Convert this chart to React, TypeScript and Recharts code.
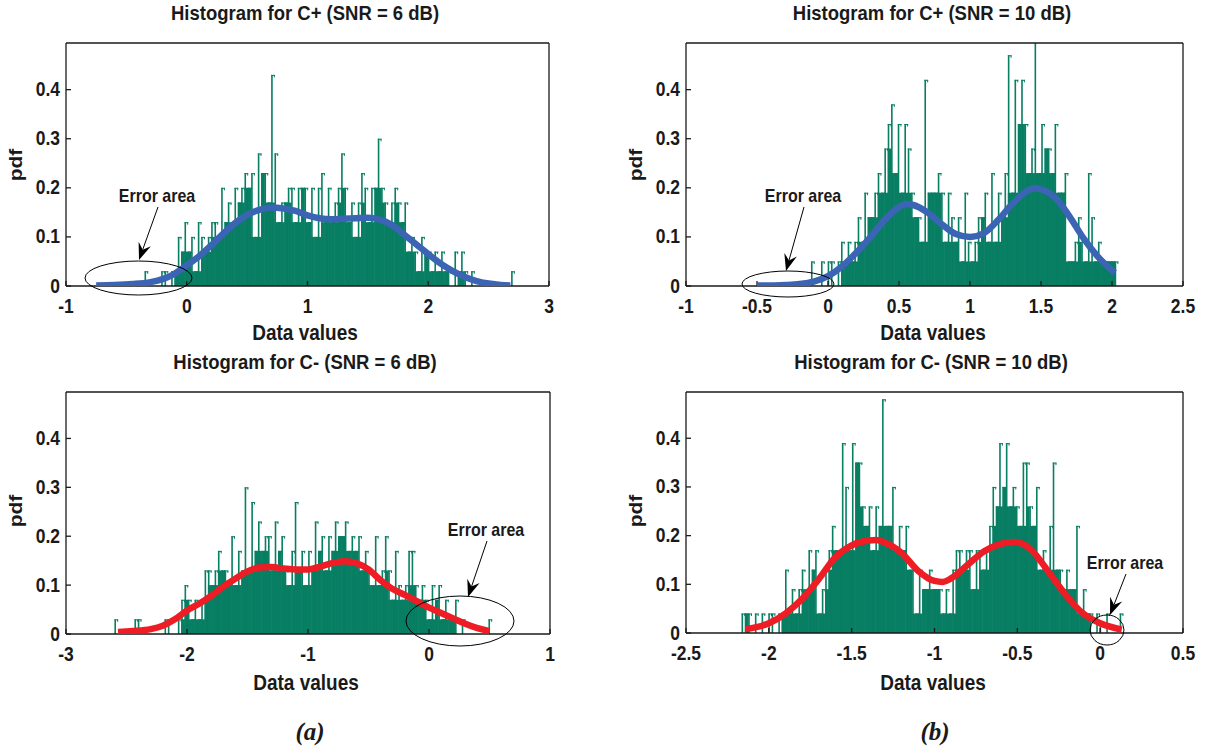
import React from "react";
import { BarChart, Bar, LineChart, Line, XAxis, YAxis } from "recharts";

const FONT = "'Liberation Sans', Arial, Helvetica, sans-serif";
const BAR_GREEN = "#087e63";
const BLUE = "#3c64b5";
const RED = "#ee1c24";
const INK = "#1a1a1a";

const yTicks = [0, 0.1, 0.2, 0.3, 0.4];
const yMax = 0.495;

// (a) C+ , SNR = 6 dB
const aPlusTicks = [-1, 0, 1, 2, 3];
const aPlusBinStart = -0.35;
const aPlusBinWidth = 0.0276;
const aPlusHeights = [
  0.03, 0, 0, 0, 0, 0.03, 0.03, 0, 0.03, 0.03,
  0.1, 0.07, 0.13, 0.07, 0.1, 0.03, 0.13, 0.1, 0.07, 0.1,
  0.13, 0.13, 0.1, 0.2, 0.13, 0.17, 0.13, 0.2, 0.17, 0.2,
  0.23, 0.2, 0.23, 0.1, 0.27, 0.23, 0.23, 0.17, 0.43, 0.27,
  0.13, 0.17, 0.17, 0.2, 0.2, 0.13, 0.2, 0.2, 0.2, 0.13,
  0.2, 0.1, 0.2, 0.23, 0.13, 0.2, 0.13, 0.17, 0.2, 0.27,
  0.2, 0.13, 0.17, 0.1, 0.17, 0.23, 0.2, 0.13, 0.2, 0.2,
  0.3, 0.2, 0.17, 0.13, 0.17, 0.2, 0.17, 0.13, 0.17, 0.07,
  0.1, 0.07, 0.03, 0.1, 0.07, 0.07, 0.03, 0.07, 0.03, 0.07,
  0.03, 0.03, 0, 0.07, 0.03, 0.07, 0.03, 0, 0.03, 0,
  0, 0, 0, 0, 0, 0, 0, 0, 0, 0,
  0.03,
];
const aPlusCurveX = [-0.75, -0.6, -0.45, -0.3, -0.2, -0.1, 0, 0.1, 0.2, 0.3, 0.4, 0.5, 0.6, 0.7, 0.8, 0.9, 1.0, 1.1, 1.2, 1.3, 1.4, 1.5, 1.6, 1.7, 1.8, 1.9, 2.0, 2.1, 2.2, 2.3, 2.4, 2.5, 2.6, 2.68];
const aPlusCurveY = [0.001, 0.002, 0.004, 0.008, 0.014, 0.025, 0.042, 0.06, 0.082, 0.106, 0.128, 0.145, 0.155, 0.16, 0.158, 0.153, 0.144, 0.138, 0.136, 0.137, 0.138, 0.139, 0.135, 0.124, 0.105, 0.085, 0.065, 0.046, 0.031, 0.019, 0.01, 0.005, 0.002, 0.001];

// (a) C- , SNR = 6 dB
const aMinusTicks = [-3, -2, -1, 0, 1];
const aMinusBinStart = -2.6;
const aMinusBinWidth = 0.0276;
const aMinusHeights = [
  0.03, 0, 0, 0, 0, 0, 0.03, 0.03, 0, 0,
  0, 0, 0, 0, 0, 0.03, 0.03, 0, 0, 0.03,
  0.07, 0.1, 0.07, 0.03, 0.07, 0.03, 0.07, 0.13, 0.13, 0.1,
  0.13, 0.17, 0.13, 0.13, 0.1, 0.2, 0.1, 0.17, 0.13, 0.3,
  0.13, 0.27, 0.17, 0.23, 0.17, 0.2, 0.2, 0.13, 0.23, 0.17,
  0.2, 0.13, 0.1, 0.17, 0.27, 0.13, 0.17, 0.1, 0.17, 0.13,
  0.23, 0.17, 0.2, 0.13, 0.2, 0.17, 0.23, 0.2, 0.2, 0.23,
  0.17, 0.2, 0.17, 0.2, 0.13, 0.17, 0.13, 0.1, 0.2, 0.1,
  0.13, 0.2, 0.13, 0.07, 0.17, 0.1, 0.07, 0.1, 0.17, 0.17,
  0.1, 0.07, 0.1, 0.07, 0.03, 0.1, 0.07, 0.1, 0.03, 0.07,
  0.03, 0.03, 0.07, 0, 0.03, 0, 0, 0, 0, 0,
  0, 0, 0.03,
];
const aMinusCurveX = [-2.57, -2.45, -2.3, -2.2, -2.1, -2.0, -1.9, -1.8, -1.7, -1.6, -1.5, -1.4, -1.3, -1.2, -1.1, -1.0, -0.9, -0.8, -0.7, -0.6, -0.5, -0.4, -0.3, -0.2, -0.1, 0, 0.1, 0.2, 0.3, 0.4, 0.5];
const aMinusCurveY = [0.004, 0.006, 0.01, 0.017, 0.03, 0.048, 0.062, 0.078, 0.097, 0.113, 0.128, 0.136, 0.137, 0.134, 0.132, 0.132, 0.138, 0.145, 0.149, 0.145, 0.132, 0.11, 0.092, 0.08, 0.067, 0.054, 0.043, 0.032, 0.021, 0.012, 0.006];

// (b) C+ , SNR = 10 dB
const bPlusTicks = [-1, -0.5, 0, 0.5, 1, 1.5, 2, 2.5];
const bPlusBinStart = -0.12;
const bPlusBinWidth = 0.0235;
const bPlusHeights = [
  0.05, 0, 0, 0.05, 0, 0.05, 0.05, 0, 0.05, 0.09,
  0.05, 0.09, 0.05, 0.09, 0.14, 0.09, 0.19, 0.14, 0.14, 0.19,
  0.23, 0.19, 0.28, 0.33, 0.37, 0.23, 0.33, 0.19, 0.33, 0.28,
  0.19, 0.14, 0.14, 0.09, 0.42, 0.19, 0.19, 0.19, 0.23, 0.19,
  0.09, 0.19, 0.14, 0.09, 0.14, 0.05, 0.19, 0.09, 0.05, 0.09,
  0.14, 0.14, 0.19, 0.09, 0.23, 0.09, 0.19, 0.14, 0.23, 0.47,
  0.19, 0.42, 0.33, 0.42, 0.33, 0.23, 0.28, 0.5, 0.23, 0.33,
  0.28, 0.28, 0.23, 0.33, 0.19, 0.19, 0.23, 0.05, 0.05, 0.09,
  0.14, 0.09, 0.05, 0.23, 0.14, 0.05, 0.09, 0.05, 0.05, 0.05,
  0.05, 0.05,
];
const bPlusCurveX = [-0.5, -0.4, -0.3, -0.2, -0.1, 0, 0.1, 0.2, 0.3, 0.4, 0.5, 0.55, 0.6, 0.7, 0.8, 0.9, 1.0, 1.1, 1.2, 1.3, 1.4, 1.45, 1.5, 1.6, 1.7, 1.8, 1.9, 2.02];
const bPlusCurveY = [0.001, 0.001, 0.002, 0.004, 0.009, 0.02, 0.04, 0.068, 0.1, 0.135, 0.161, 0.167, 0.165, 0.15, 0.126, 0.106, 0.1, 0.108, 0.135, 0.168, 0.193, 0.199, 0.197, 0.18, 0.142, 0.097, 0.06, 0.027];

// (b) C- , SNR = 10 dB
const bMinusTicks = [-2.5, -2, -1.5, -1, -0.5, 0, 0.5];
const bMinusBinStart = -2.165;
const bMinusBinWidth = 0.0202;
const bMinusHeights = [
  0.04, 0.04, 0.04, 0, 0.04, 0, 0.04, 0, 0.04, 0.04,
  0, 0.04, 0.04, 0.13, 0.04, 0.09, 0.04, 0.09, 0.13, 0.09,
  0.17, 0.13, 0.17, 0.04, 0.09, 0.13, 0.17, 0.22, 0.17, 0.17,
  0.39, 0.3, 0.17, 0.39, 0.35, 0.35, 0.26, 0.22, 0.26, 0.17,
  0.26, 0.22, 0.48, 0.22, 0.22, 0.3, 0.17, 0.22, 0.17, 0.22,
  0.13, 0.13, 0.04, 0.13, 0.09, 0.09, 0.13, 0.09, 0.09, 0.09,
  0.04, 0.09, 0.04, 0.13, 0.17, 0.17, 0.13, 0.17, 0.17, 0.09,
  0.17, 0.17, 0.13, 0.17, 0.22, 0.3, 0.26, 0.39, 0.3, 0.39,
  0.26, 0.3, 0.26, 0.22, 0.35, 0.35, 0.26, 0.22, 0.3, 0.13,
  0.17, 0.13, 0.22, 0.35, 0.13, 0.13, 0.09, 0.13, 0.09, 0.09,
  0.22, 0.04, 0.09, 0.04, 0.04, 0, 0.04, 0.02, 0, 0.04,
  0, 0, 0, 0.04,
];
const bMinusCurveX = [-2.14, -2.0, -1.9, -1.8, -1.7, -1.6, -1.5, -1.4, -1.35, -1.3, -1.2, -1.1, -1.0, -0.95, -0.9, -0.8, -0.7, -0.6, -0.52, -0.45, -0.4, -0.3, -0.2, -0.12, 0, 0.13];
const bMinusCurveY = [0.008, 0.02, 0.04, 0.07, 0.11, 0.155, 0.18, 0.19, 0.191, 0.186, 0.165, 0.128, 0.107, 0.105, 0.112, 0.14, 0.168, 0.183, 0.187, 0.18, 0.165, 0.12, 0.075, 0.045, 0.02, 0.007];

type Rect = { left: number; top: number; right: number; bottom: number };

function buildBins(start: number, width: number, heights: number[]) {
  return heights.map((h, i) => ({
    x: start + (i + 0.5) * width,
    h,
    // part of the bar that sits between both neighbours -> drawn solid
    low: Math.min(h, heights[i - 1] ?? 0, heights[i + 1] ?? 0),
  }));
}

function buildCurve(xs: number[], ys: number[]) {
  return xs.map((x, i) => ({ x, y: ys[i] }));
}

function HistBar(props: any) {
  const { x, y, width, height, payload, fill } = props;
  if (!height || height <= 0 || !payload || !payload.h) return null;
  const pxPerUnit = height / payload.h;
  const solid = payload.low * pxPerUnit;
  const bottom = y + height;
  const w = width + 0.4;
  return (
    <g>
      {solid > 0 && <rect x={x} y={bottom - solid} width={w} height={solid} fill={fill} />}
      <rect x={x} y={y} width={1.6} height={height} fill={fill} />
      <rect x={x} y={y} width={w} height={1} fill={fill} />
      <rect x={x + w - 1} y={y} width={1} height={2.5} fill={fill} />
    </g>
  );
}

const XTick = (p: any) => (
  <text
    transform={`translate(${p.x},${p.y + 27}) scale(1,1.12)`}
    textAnchor="middle"
    fontFamily={FONT}
    fontWeight="bold"
    fontSize={17.5}
    fill={INK}
  >
    {p.payload.value}
  </text>
);

const YTick = (p: any) => (
  <text
    transform={`translate(${p.x},${p.y + 6.5}) scale(1,1.12)`}
    textAnchor="end"
    fontFamily={FONT}
    fontWeight="bold"
    fontSize={17.5}
    fill={INK}
  >
    {p.payload.value}
  </text>
);

type PanelProps = {
  rect: Rect;
  xDomain: [number, number];
  xTicks: number[];
  bins: { x: number; h: number; low: number }[];
  binWidth: number;
  curve: { x: number; y: number }[];
  color: string;
};

function Panel({ rect, xDomain, xTicks, bins, binWidth, curve, color }: PanelProps) {
  const mL = 60, mT = 12, mR = 14, mB = 40;
  const pw = rect.right - rect.left;
  const ph = rect.bottom - rect.top;
  const cw = pw + mL + mR;
  const ch = ph + mT + mB;
  const barPx = (binWidth * pw) / (xDomain[1] - xDomain[0]);
  const axisStroke = { stroke: INK, strokeWidth: 1.3 };

  return (
    <div style={{ position: "absolute", left: rect.left - mL, top: rect.top - mT, width: cw, height: ch }}>
      <div style={{ position: "absolute", left: 0, top: 0 }}>
        <BarChart
          width={cw}
          height={ch}
          data={bins}
          margin={{ top: mT, right: mR, bottom: mB - 1, left: mL - 1 }}
          barCategoryGap={0}
          barGap={0}
        >
          <XAxis
            dataKey="x"
            type="number"
            domain={xDomain}
            ticks={xTicks}
            interval={0}
            allowDataOverflow
            height={1}
            tickSize={-5}
            tickMargin={5}
            axisLine={axisStroke}
            tickLine={axisStroke}
            tick={XTick}
          />
          <YAxis
            type="number"
            domain={[0, yMax]}
            ticks={yTicks}
            interval={0}
            allowDataOverflow
            width={1}
            tickSize={-5}
            tickMargin={11}
            axisLine={axisStroke}
            tickLine={axisStroke}
            tick={YTick}
          />
          <Bar
            dataKey="h"
            fill={BAR_GREEN}
            barSize={barPx - 0.01}
            isAnimationActive={false}
            shape={(p: any) => <HistBar {...p} />}
          />
        </BarChart>
      </div>
      <div style={{ position: "absolute", left: 0, top: 0 }}>
        <LineChart
          width={cw}
          height={ch}
          data={curve}
          margin={{ top: mT - 1, right: mR - 1, bottom: mB, left: mL }}
        >
          <XAxis
            orientation="top"
            dataKey="x"
            type="number"
            domain={xDomain}
            ticks={xTicks}
            interval={0}
            allowDataOverflow
            height={1}
            tickSize={-4}
            tick={false}
            axisLine={axisStroke}
            tickLine={axisStroke}
          />
          <YAxis
            orientation="right"
            type="number"
            domain={[0, yMax]}
            ticks={yTicks}
            interval={0}
            allowDataOverflow
            width={1}
            tickSize={-4}
            tick={false}
            axisLine={axisStroke}
            tickLine={axisStroke}
          />
          <Line
            type="monotone"
            dataKey="y"
            stroke={color}
            strokeWidth={6.5}
            dot={false}
            isAnimationActive={false}
          />
        </LineChart>
      </div>
    </div>
  );
}

function SText({ x, y, size, sy = 1.12, children }: { x: number; y: number; size: number; sy?: number; children: React.ReactNode }) {
  return (
    <text
      transform={`translate(${x},${y}) scale(1,${sy})`}
      textAnchor="middle"
      fontFamily={FONT}
      fontWeight="bold"
      fontSize={size}
      fill={INK}
    >
      {children}
    </text>
  );
}

function YLabel({ x, y }: { x: number; y: number }) {
  return (
    <text
      transform={`translate(${x},${y}) rotate(-90) scale(1.2,1)`}
      textAnchor="middle"
      fontFamily={FONT}
      fontWeight="bold"
      fontSize={17.5}
      fill={INK}
    >
      pdf
    </text>
  );
}

function Arrow({ x1, y1, x2, y2 }: { x1: number; y1: number; x2: number; y2: number }) {
  const dx = x2 - x1, dy = y2 - y1;
  const len = Math.hypot(dx, dy);
  const ux = dx / len, uy = dy / len;
  const px = -uy, py = ux;
  const L = 17, half = 6.5, notch = 11;
  const bx = x2 - ux * L, by = y2 - uy * L;
  const nx = x2 - ux * notch, ny = y2 - uy * notch;
  const pts = [
    [x2, y2],
    [bx + px * half, by + py * half],
    [nx, ny],
    [bx - px * half, by - py * half],
  ].map((p) => p.join(",")).join(" ");
  return (
    <g>
      <line x1={x1} y1={y1} x2={nx} y2={ny} stroke="#000" strokeWidth={1} />
      <polygon points={pts} fill="#000" />
    </g>
  );
}

function ErrorNote({ tx, ty, ax, ay, cx, cy, rx, ry }: { tx: number; ty: number; ax: number; ay: number; cx: number; cy: number; rx: number; ry: number }) {
  return (
    <g>
      <SText x={tx} y={ty} size={16} sy={1.15}>Error area</SText>
      <Arrow x1={tx + 1} y1={ty + 5} x2={ax} y2={ay} />
      <ellipse cx={cx} cy={cy} rx={rx} ry={ry} fill="none" stroke="#000" strokeWidth={1} />
    </g>
  );
}

export default function App() {
  const rectAPlus = { left: 66, top: 43, right: 549, bottom: 286 };
  const rectBPlus = { left: 686, top: 43, right: 1183, bottom: 286 };
  const rectAMinus = { left: 66, top: 392, right: 550, bottom: 634 };
  const rectBMinus = { left: 686, top: 392, right: 1183, bottom: 633 };

  return (
    <div style={{ position: "absolute", left: 0, top: 0, width: 1206, height: 747, background: "#fff", overflow: "hidden" }}>
      <Panel
        rect={rectAPlus}
        xDomain={[-1, 3]}
        xTicks={aPlusTicks}
        bins={buildBins(aPlusBinStart, aPlusBinWidth, aPlusHeights)}
        binWidth={aPlusBinWidth}
        curve={buildCurve(aPlusCurveX, aPlusCurveY)}
        color={BLUE}
      />
      <Panel
        rect={rectBPlus}
        xDomain={[-1, 2.5]}
        xTicks={bPlusTicks}
        bins={buildBins(bPlusBinStart, bPlusBinWidth, bPlusHeights)}
        binWidth={bPlusBinWidth}
        curve={buildCurve(bPlusCurveX, bPlusCurveY)}
        color={BLUE}
      />
      <Panel
        rect={rectAMinus}
        xDomain={[-3, 1]}
        xTicks={aMinusTicks}
        bins={buildBins(aMinusBinStart, aMinusBinWidth, aMinusHeights)}
        binWidth={aMinusBinWidth}
        curve={buildCurve(aMinusCurveX, aMinusCurveY)}
        color={RED}
      />
      <Panel
        rect={rectBMinus}
        xDomain={[-2.5, 0.5]}
        xTicks={bMinusTicks}
        bins={buildBins(bMinusBinStart, bMinusBinWidth, bMinusHeights)}
        binWidth={bMinusBinWidth}
        curve={buildCurve(bMinusCurveX, bMinusCurveY)}
        color={RED}
      />

      <svg width={1206} height={747} style={{ position: "absolute", left: 0, top: 0, pointerEvents: "none" }}>
        <SText x={305} y={20} size={18.5}>Histogram for C+ (SNR = 6 dB)</SText>
        <SText x={932} y={20} size={18.5}>Histogram for C+ (SNR = 10 dB)</SText>
        <SText x={305} y={369} size={18.5}>Histogram for C- (SNR = 6 dB)</SText>
        <SText x={931} y={369} size={18.5}>Histogram for C- (SNR = 10 dB)</SText>

        <SText x={305} y={340} size={19} sy={1.18}>Data values</SText>
        <SText x={933} y={340} size={19} sy={1.18}>Data values</SText>
        <SText x={306} y={690} size={19} sy={1.18}>Data values</SText>
        <SText x={933} y={690} size={19} sy={1.18}>Data values</SText>

        <YLabel x={22} y={165} />
        <YLabel x={22} y={511} />
        <YLabel x={642} y={165} />
        <YLabel x={642} y={511} />

        <ErrorNote tx={157} ty={202} ax={139} ay={260} cx={138.5} cy={278} rx={53.5} ry={17} />
        <ErrorNote tx={803} ty={202} ax={786} ay={271} cx={788} cy={284} rx={46} ry={13} />
        <ErrorNote tx={486} ty={536} ax={468} ay={597} cx={460} cy={621} rx={54} ry={25} />
        <ErrorNote tx={1125} ty={569} ax={1110} ay={615} cx={1107} cy={630} rx={17} ry={15} />

        <text x={310} y={740} textAnchor="middle" fontFamily="'Liberation Serif', 'Times New Roman', serif" fontWeight="bold" fontStyle="italic" fontSize={25} fill={INK}>
          (a)
        </text>
        <text x={935} y={740} textAnchor="middle" fontFamily="'Liberation Serif', 'Times New Roman', serif" fontWeight="bold" fontStyle="italic" fontSize={25} fill={INK}>
          (b)
        </text>
      </svg>
    </div>
  );
}
